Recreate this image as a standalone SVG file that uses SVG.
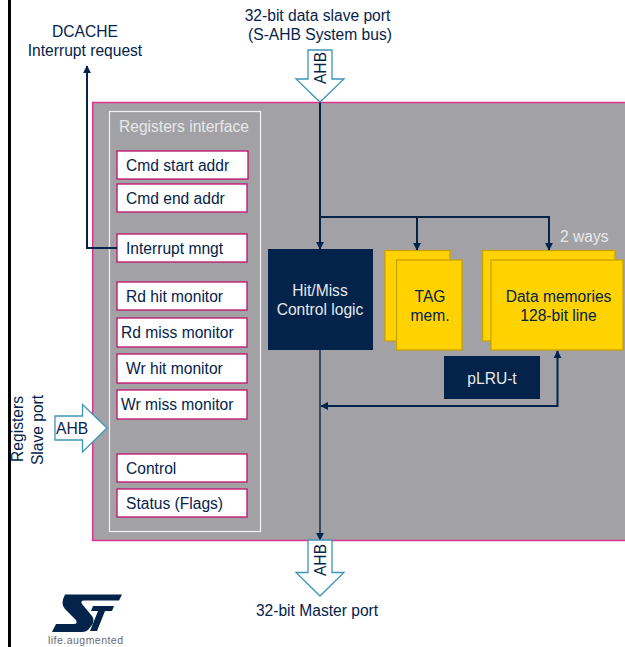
<svg xmlns="http://www.w3.org/2000/svg" width="625" height="647" viewBox="0 0 625 647">
<style>
text{font-family:"Liberation Sans",Arial,sans-serif;font-size:15.6px;fill:#03234b}
.m{text-anchor:middle}
.w{fill:#e8e8ea}
.reg{fill:#fff;stroke:#c0106e;stroke-width:1.3}
.y{fill:#ffd200;stroke:#c9a400;stroke-width:1.3}
.n{fill:#03234b}
.a{fill:#fff;stroke:#3d95b8;stroke-width:1.3}
.c{fill:none;stroke:#03234b;stroke-width:2}
.t{stroke-width:1.4}
</style>
<defs>
<marker id="h" viewBox="0 0 10 10" refX="9" refY="5" markerUnits="userSpaceOnUse" markerWidth="8" markerHeight="8" orient="auto-start-reverse"><path d="M0 0L10 5L0 10Z" fill="#03234b"/></marker>
</defs>
<rect width="625" height="647" fill="#fff"/>
<rect x="8" y="0" width="3" height="647" fill="#000"/>
<g id="panel"><rect x="92.700" y="102.500" width="540" height="438" fill="#a2a2a6" stroke="#e4308f" stroke-width="1.500"/></g>
<g id="registers-interface">
<rect x="109.500" y="111.500" width="151" height="420" fill="none" stroke="#f2f2f2" stroke-width="1.200"/>
<text class="w" x="119" y="132">Registers interface</text>
</g>
<g id="cmd-start"><rect class="reg" x="117" y="151" width="131" height="28"/><text x="126" y="171">Cmd start addr</text></g>
<g id="cmd-end"><rect class="reg" x="117" y="184" width="130" height="28"/><text x="126" y="204">Cmd end addr</text></g>
<g id="interrupt-mngt"><rect class="reg" x="117" y="234" width="130" height="28"/><text x="126" y="254">Interrupt mngt</text></g>
<g id="rd-hit"><rect class="reg" x="117" y="282" width="130" height="28"/><text x="126" y="302">Rd hit monitor</text></g>
<g id="rd-miss"><rect class="reg" x="117" y="318" width="130" height="29"/><text x="121" y="338">Rd miss monitor</text></g>
<g id="wr-hit"><rect class="reg" x="117" y="354" width="130" height="29"/><text x="126" y="374">Wr hit monitor</text></g>
<g id="wr-miss"><rect class="reg" x="117" y="390" width="130" height="29"/><text x="121" y="410">Wr miss monitor</text></g>
<g id="control"><rect class="reg" x="117" y="454" width="130" height="28"/><text x="126" y="474">Control</text></g>
<g id="status"><rect class="reg" x="117" y="489" width="130" height="28"/><text x="126" y="509">Status (Flags)</text></g>
<g id="hit-miss"><rect class="n" x="268" y="249" width="105" height="101"/><text class="m w" x="320" y="296">Hit/Miss</text><text class="m w" x="320" y="315">Control logic</text></g>
<g id="tag-mem"><rect class="y" x="385" y="250.500" width="65" height="90.500"/><rect class="y" x="396.500" y="260" width="65.500" height="90"/><text class="m" x="430" y="302">TAG</text><text class="m" x="430" y="321">mem.</text></g>
<g id="data-memories"><rect class="y" x="482.500" y="250.500" width="132.500" height="90.500"/><rect class="y" x="491" y="260" width="132" height="90"/><text class="m" x="558.500" y="302">Data memories</text><text class="m" x="558.500" y="321">128-bit line</text></g>
<text class="w" x="560" y="242">2 ways</text>
<g id="plru"><rect class="n" x="444" y="356" width="96" height="43"/><text class="m w" x="492" y="384">pLRU-t</text></g>
<g id="connectors">
<path class="c" d="M320 102V249" marker-end="url(#h)"/>
<path class="c" d="M320 217H549V250" marker-end="url(#h)"/>
<path class="c" d="M417 217V250" marker-end="url(#h)"/>
<path class="c t" d="M320 350V540" marker-end="url(#h)"/>
<path class="c" d="M321 406H557.500V351" marker-start="url(#h)" marker-end="url(#h)"/>
<path class="c" d="M117 248H87V66" marker-end="url(#h)"/>
</g>
<g id="ahb-top"><path class="a" d="M308 50H332V79H344L320 102L296 79H308Z"/><text class="m" transform="translate(325.500 68) rotate(-90)">AHB</text></g>
<g id="ahb-bottom"><path class="a" d="M308 540H332V572.500H344L320 596L296 572.500H308Z"/><text class="m" transform="translate(325.500 560) rotate(-90)">AHB</text></g>
<g id="ahb-left"><path class="a" d="M55 416H82.500V404.500L107 428L82.500 452V440H55Z"/><text x="56" y="434">AHB</text></g>
<text class="m" x="85" y="37">DCACHE</text>
<text class="m" x="85" y="56">Interrupt request</text>
<text class="m" x="317.500" y="20.500">32-bit data slave port</text>
<text class="m" x="320" y="40">(S-AHB System bus)</text>
<text class="m" x="317" y="616">32-bit Master port</text>
<text class="m" transform="translate(23 429) rotate(-90)">Registers</text>
<text class="m" transform="translate(43 430) rotate(-90)">Slave port</text>
<g id="st-logo">
<path class="n" d="M65 594.500H122L119 600.500H84Q80 600.500 82 604L92 616Q95 620 92 625L88 630Q86 632 82 632H52L56 624H74Q78 624 76 620L65 609Q60 604 65 594.500Z"/>
<path class="n" d="M93 606H114L112 611H105L97 631H90L98 611H91Z"/>
<text x="48" y="644" textLength="75" style="font-size:10.500px;fill:#666a72">life.augmented</text>
</g>
</svg>
